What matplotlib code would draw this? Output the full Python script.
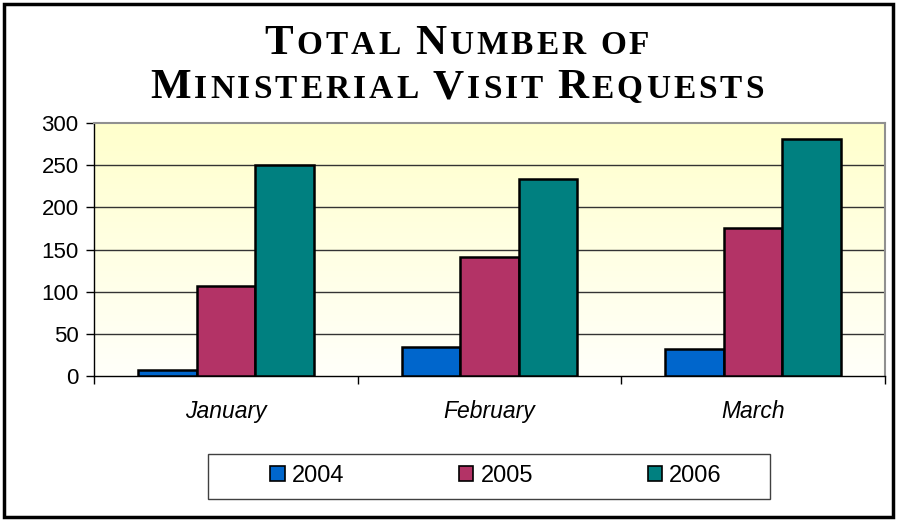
import numpy as np
import matplotlib
matplotlib.use("Agg")
import matplotlib.pyplot as plt
from matplotlib.offsetbox import TextArea, HPacker, VPacker, AnchoredOffsetbox
from matplotlib.patches import Rectangle, Patch
from matplotlib.colors import LinearSegmentedColormap

categories = ["January", "February", "March"]
years = ["2004", "2005", "2006"]
values_2004 = [7, 34, 32]
values_2005 = [107, 141, 175]
values_2006 = [250, 234, 281]
colors = ["#0066CC", "#B33366", "#008080"]
yticks = [0, 50, 100, 150, 200, 250, 300]

plt.rcParams['font.family'] = ['Liberation Sans', 'DejaVu Sans']

fig = plt.figure(figsize=(9, 5.21), dpi=100)
ax = fig.add_axes([94/900, 1-376/521, (885-94)/900, (376-123)/521])

# gradient background
grad = np.linspace(0, 1, 256).reshape(-1, 1)
cmap = LinearSegmentedColormap.from_list("bg", ["#FFFFFA", "#FFFFCC"])
ax.imshow(grad, aspect='auto', cmap=cmap, origin='lower',
          extent=[0, 1, 0, 1], transform=ax.transAxes, zorder=0)

x = np.arange(len(categories))
bw = 1/4.5
series = [values_2004, values_2005, values_2006]
for i, (vals, c) in enumerate(zip(series, colors)):
    ax.bar(x + (i-1)*bw, vals, width=bw, color=c, edgecolor='black',
           linewidth=1.8, zorder=3, label=years[i])

ax.set_xlim(-0.5, len(categories)-0.5)
ax.set_ylim(0, 300)
ax.set_yticks(yticks)
ax.set_yticklabels([str(v) for v in yticks], fontsize=16)
for v in yticks[1:-1]:
    ax.axhline(v, color='#333333', linewidth=1.0, zorder=1)
ax.set_xticks(x)
ax.set_xticklabels(categories, fontsize=16.5, style='italic')
ax.tick_params(axis='x', length=0, pad=17)
ax.set_xticks(np.arange(-0.5, len(categories)), minor=True)
ax.tick_params(axis='x', which='minor', length=6, width=1, direction='out')
ax.tick_params(axis='y', length=6, width=1, direction='out', pad=5)

for s in ['top', 'right']:
    ax.spines[s].set_color('#909090')
    ax.spines[s].set_linewidth(1.5)
for s in ['left', 'bottom']:
    ax.spines[s].set_color('black')
    ax.spines[s].set_linewidth(1.0)

# title with simulated small caps and letter spacing
serif = ['Liberation Serif', 'DejaVu Serif']
big = dict(fontsize=31, family=serif, weight='bold', color='black')
small = dict(fontsize=24, family=serif, weight='bold', color='black')

def line(words):
    parts = []
    for j, w in enumerate(words):
        for k, ch in enumerate(w):
            if k == 0 and ch.isupper():
                parts.append(TextArea(ch, textprops=big))
            else:
                parts.append(TextArea(ch.upper(), textprops=small))
        if j < len(words)-1:
            parts.append(TextArea(" ", textprops=small))
    return HPacker(children=parts, align='baseline', pad=0, sep=2.2)

l1 = line(["Total", "Number", "of"])
l2 = line(["Ministerial", "Visit", "Requests"])
vp = VPacker(children=[l1, l2], align='center', pad=0, sep=4.5)
ab = AnchoredOffsetbox(loc='upper center', child=vp, bbox_to_anchor=(457/900, 1-25/521),
                       bbox_transform=fig.transFigure, frameon=False, pad=0, borderpad=0)
fig.add_artist(ab)

# legend
handles = [Patch(facecolor=c, edgecolor='black', linewidth=1.2) for c in colors]
leg = fig.legend(handles, years, loc='center', bbox_to_anchor=(496/900, 1-476/521),
                 ncol=3, fontsize=17, frameon=False,
                 handlelength=0.62, handleheight=0.62, handletextpad=0.3,
                 columnspacing=4.85, borderpad=0.0)
fig.add_artist(Rectangle((208/900, 1-499/521), (770-208)/900, (499-454)/521,
                         transform=fig.transFigure, fill=False, edgecolor='#404040', linewidth=1.0))

fig.add_artist(Rectangle((4/900, 4/521), (893-4)/900, (517-4)/521, transform=fig.transFigure,
                         fill=False, edgecolor='black', linewidth=2.5))

fig.savefig("out.png", dpi=100)
